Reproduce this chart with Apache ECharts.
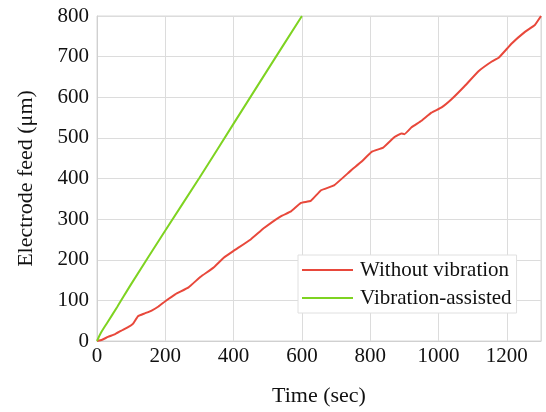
<!DOCTYPE html>
<html>
<head>
<meta charset="utf-8">
<script src="https://cdn.jsdelivr.net/npm/echarts@6/dist/echarts.min.js"></script>
<style>
  html, body { margin: 0; padding: 0; background: #fff; }
  #chart { width: 546px; height: 412px; }
</style>
</head>
<body>
<div id="chart"></div>
<script>
// time (sec) and electrode feed (um)
var noVibTime = [0, 15, 32, 53, 70, 91, 105, 120, 140, 160, 180, 200, 229, 268, 303, 340, 371, 400,
  450, 489, 538, 568, 597, 626, 656, 694, 744, 774, 805, 838, 871, 891, 900, 921, 950, 979,
  1009, 1038, 1076, 1117, 1156, 1176, 1215, 1253, 1282, 1300];
var noVibFeed = [0, 3, 10, 17, 25, 34, 42, 61, 68, 75, 85, 98, 115, 132, 158, 180, 205, 222,
  250, 278, 307, 319, 340, 345, 371, 383, 420, 441, 466, 476, 502, 511, 509, 526, 542, 562,
  575, 595, 627, 664, 688, 697, 733, 761, 778, 800];

var vibTime = [0, 10, 30, 60, 100, 200, 300, 400, 500, 600];
var vibFeed = [0, 18, 45, 85, 140, 272, 402, 535, 668, 800];

var seriesNames = ['Without vibration', 'Vibration-assisted'];

function pairs(xs, ys) {
  return xs.map(function (x, i) { return [x, ys[i]]; });
}

var font = 'Liberation Serif';
var chart = echarts.init(document.getElementById('chart'));

var option = {
  animation: false,
  textStyle: { fontFamily: font, color: '#111' },
  grid: {
    left: 97,
    right: 5,
    top: 16,
    bottom: 68,
    show: true,
    borderColor: '#d9d9d9',
    borderWidth: 1
  },
  legend: {
    orient: 'vertical',
    left: 298,
    top: 255,
    padding: [4, 5, 4, 4],
    itemGap: 6,
    itemWidth: 51,
    itemHeight: 2,
    icon: 'rect',
    backgroundColor: '#fff',
    borderColor: '#e0e0e0',
    borderWidth: 1,
    textStyle: { fontFamily: font, fontSize: 21, color: '#111', lineHeight: 22, padding: [0, 0, 0, 2] },
    data: seriesNames
  },
  xAxis: {
    type: 'value',
    min: 0,
    max: 1300,
    interval: 200,
    name: 'Time (sec)',
    nameLocation: 'middle',
    nameGap: 44,
    nameTextStyle: { fontFamily: font, fontSize: 22, color: '#111' },
    axisLine: { show: true, lineStyle: { color: '#d0d0d0' } },
    axisTick: { show: false },
    axisLabel: {
      fontFamily: font, fontSize: 21, color: '#111', margin: 5,
      formatter: function (v) { return String(v); }
    },
    splitLine: { show: true, lineStyle: { color: '#dcdcdc', width: 1 } }
  },
  yAxis: {
    type: 'value',
    min: 0,
    max: 800,
    interval: 100,
    name: 'Electrode feed (μm)',
    nameLocation: 'middle',
    nameGap: 60,
    nameTextStyle: { fontFamily: font, fontSize: 22, color: '#111' },
    axisLine: { show: true, lineStyle: { color: '#d0d0d0' } },
    axisTick: { show: false },
    axisLabel: {
      fontFamily: font, fontSize: 21, color: '#111', margin: 8,
      formatter: function (v) { return String(v); }
    },
    splitLine: { show: true, lineStyle: { color: '#dcdcdc', width: 1 } }
  },
  series: [
    {
      name: seriesNames[0],
      type: 'line',
      showSymbol: false,
      symbol: 'none',
      smooth: 0.1,
      lineStyle: { color: '#e8483b', width: 2 },
      itemStyle: { color: '#e8483b' },
      data: pairs(noVibTime, noVibFeed),
      z: 3
    },
    {
      name: seriesNames[1],
      type: 'line',
      showSymbol: false,
      symbol: 'none',
      smooth: 0.3,
      lineStyle: { color: '#7ed321', width: 2 },
      itemStyle: { color: '#7ed321' },
      data: pairs(vibTime, vibFeed),
      z: 3
    }
  ]
};

chart.setOption(option);
</script>
</body>
</html>
